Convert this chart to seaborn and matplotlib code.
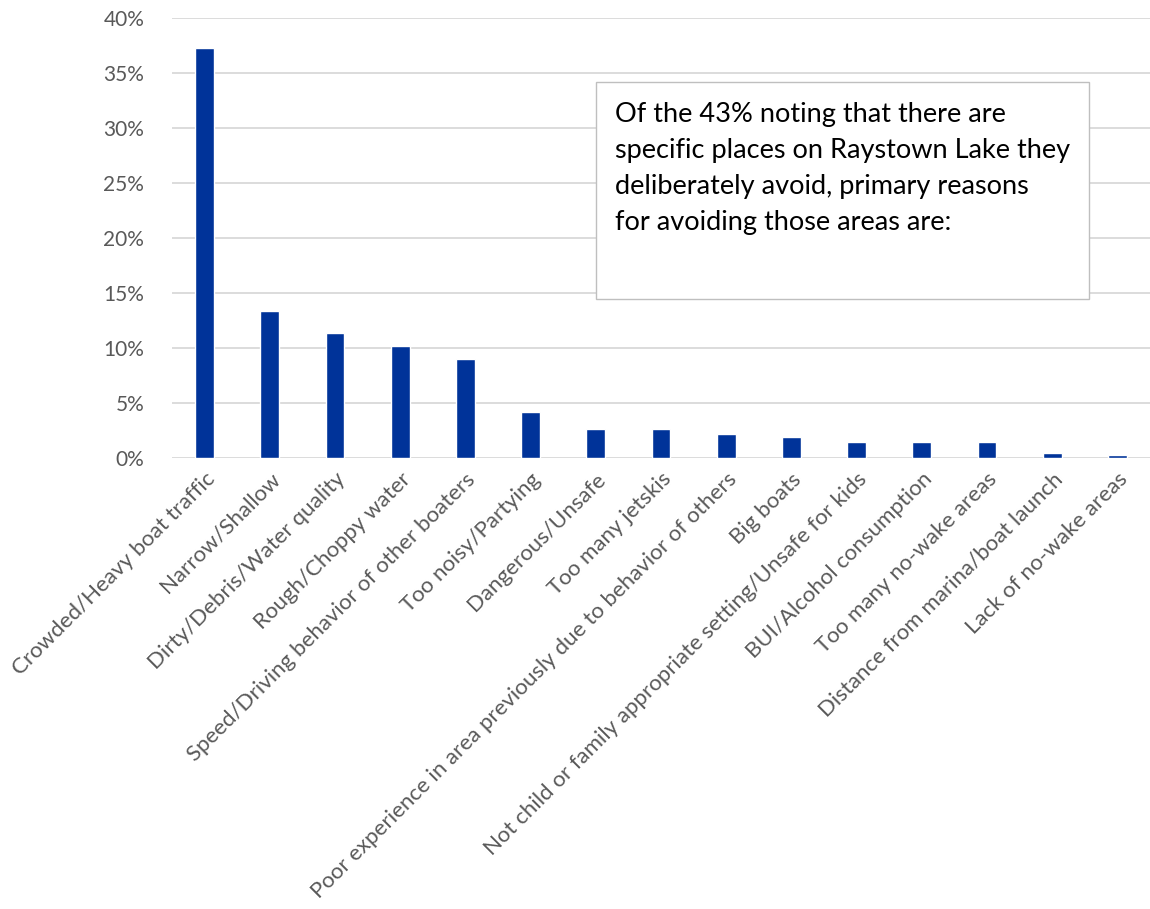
import matplotlib
matplotlib.use('Agg')
import matplotlib.pyplot as plt
import seaborn as sns
import pandas as pd
from matplotlib.patches import Rectangle
from matplotlib.ticker import PercentFormatter

# reasons for avoiding places on the lake
reasons = [
    'Crowded/Heavy boat traffic',
    'Narrow/Shallow',
    'Dirty/Debris/Water quality',
    'Rough/Choppy water',
    'Speed/Driving behavior of other boaters',
    'Too noisy/Partying',
    'Dangerous/Unsafe',
    'Too many jetskis',
    'Poor experience in area previously due to behavior of others',
    'Big boats',
    'Not child or family appropriate setting/Unsafe for kids',
    'BUI/Alcohol consumption',
    'Too many no-wake areas',
    'Distance from marina/boat launch',
    'Lack of no-wake areas',
]
shares = [37.3, 13.4, 11.4, 10.2, 9.0, 4.15, 2.65, 2.65, 2.2, 1.9, 1.45, 1.45, 1.45, 0.5, 0.25]

note = ('Of the 43% noting that there are\n'
        'specific places on Raystown Lake they\n'
        'deliberately avoid, primary reasons\n'
        'for avoiding those areas are:')

df = pd.DataFrame({'reason': reasons, 'share': shares})

sns.set_style('white')
plt.rcParams['font.family'] = ['Lato', 'DejaVu Sans']

fig = plt.figure(figsize=(11.5, 9.09), dpi=100)
ax = fig.add_axes([172 / 1150, 1 - 458 / 909, 1 - 172 / 1150, (458 - 18) / 909])

sns.barplot(data=df, x='reason', y='share', color='#003399', width=0.29,
            saturation=1, ax=ax, zorder=3)

ax.set_ylim(0, 40)
ax.set_xlim(-0.5, len(reasons) - 0.5)
ax.set_yticks(range(0, 41, 5))
ax.yaxis.set_major_formatter(PercentFormatter(decimals=0))
ax.grid(axis='y', color='#d9d9d9', linewidth=1.3, zorder=0)
ax.set_axisbelow(True)
for s in ax.spines.values():
    s.set_visible(False)
ax.set_xlabel('')
ax.set_ylabel('')
ax.tick_params(axis='both', length=0, colors='#595959')
ax.tick_params(axis='y', pad=20, labelsize=15)
ax.tick_params(axis='x', pad=8, labelsize=16)
plt.setp(ax.get_xticklabels(), rotation=45, ha='right', rotation_mode='anchor')

# note box
fig.patches.append(Rectangle((596 / 1150, 1 - 299 / 909), (1089 - 596) / 1150, (299 - 82) / 909,
                             transform=fig.transFigure, facecolor='white',
                             edgecolor='#bfbfbf', linewidth=1.0, zorder=5))
fig.text(615 / 1150, 1 - 102 / 909, note, ha='left', va='top', fontsize=19.5,
         color='black', linespacing=1.55, zorder=6)

fig.savefig('out.png', dpi=100)
